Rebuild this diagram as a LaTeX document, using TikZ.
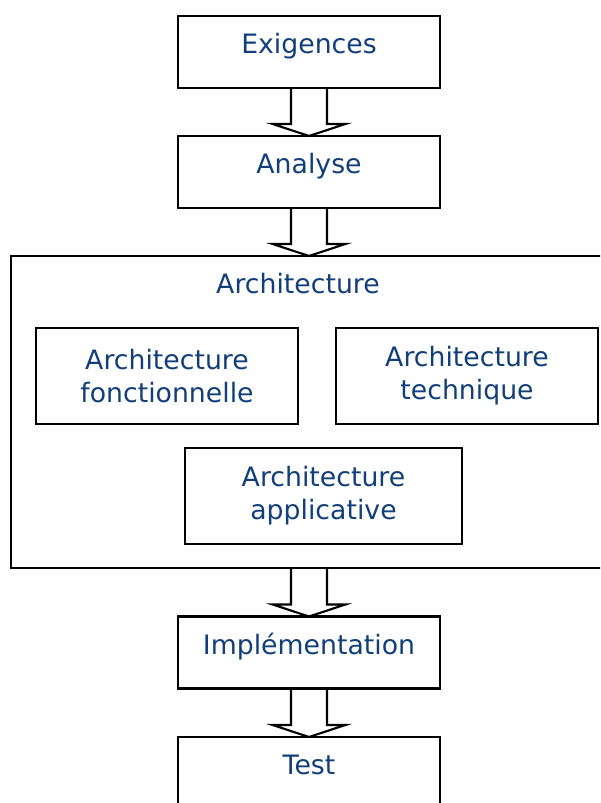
\documentclass[tikz,border=0pt]{standalone}
\usepackage{fontspec}
\setmainfont{DejaVu Sans}
\usepackage{tikz}
\usetikzlibrary{calc}
\definecolor{txtblue}{HTML}{123F7A}

% hollow block arrow from the bottom of one box to the top of the next
\newcommand{\flowarrow}[2]{%
  \draw[hollow] ($(#2.north |- #1.south)+(-0.45,0)$) -- ($(#2.north)+(-0.45,0.3)$)
    -- ($(#2.north)+(-0.91,0.3)$) -- (#2.north) -- ($(#2.north)+(0.91,0.3)$)
    -- ($(#2.north)+(0.45,0.3)$) -- ($(#2.north |- #1.south)+(0.45,0)$);}

\begin{document}
\begin{tikzpicture}[
  every node/.style={font=\fontsize{19}{23.5}\selectfont,text=txtblue},
  box/.style={rectangle,draw=black,line width=1.5pt,outer sep=0pt,
    align=center,minimum width=6.55cm,minimum height=1.8cm},
  step box/.style={box,text height=0.5cm,text depth=0.41cm},
  sub box/.style={box,minimum height=2.4cm},
  bigbox/.style={box,minimum width=14.9cm,minimum height=7.8cm},
  hollow/.style={draw=black,line width=1.5pt,line join=miter}]
\clip (0,0) rectangle (15,-20.075);

% ---- the chain of steps ------------------------------------------------
\node[step box] (exig)  at (7.725,-1.3)     {Exigences};
\node[step box] (anal)  at (7.725,-4.3)     {Analyse};
\node[bigbox]   (archi) at (7.725,-10.3)    {};
\node[step box] (impl)  at (7.725,-16.3125) {Implémentation};
\node[step box] (test)  at (7.725,-19.325)  {Test};

% ---- inside the architecture box ---------------------------------------
\node (title) at (7.45,-7.1) {Architecture};
\node[sub box]                     (fonc) at (4.175,-9.4)   {Architecture\\fonctionnelle};
\node[sub box]                     (tech) at (11.675,-9.4)  {Architecture\\technique};
\node[sub box,minimum width=6.925cm] (appl) at (8.0875,-12.4) {Architecture\\applicative};

% ---- the arrows --------------------------------------------------------
\flowarrow{exig}{anal}
\flowarrow{anal}{archi}
\flowarrow{archi}{impl}
\flowarrow{impl}{test}
\end{tikzpicture}
\end{document}
